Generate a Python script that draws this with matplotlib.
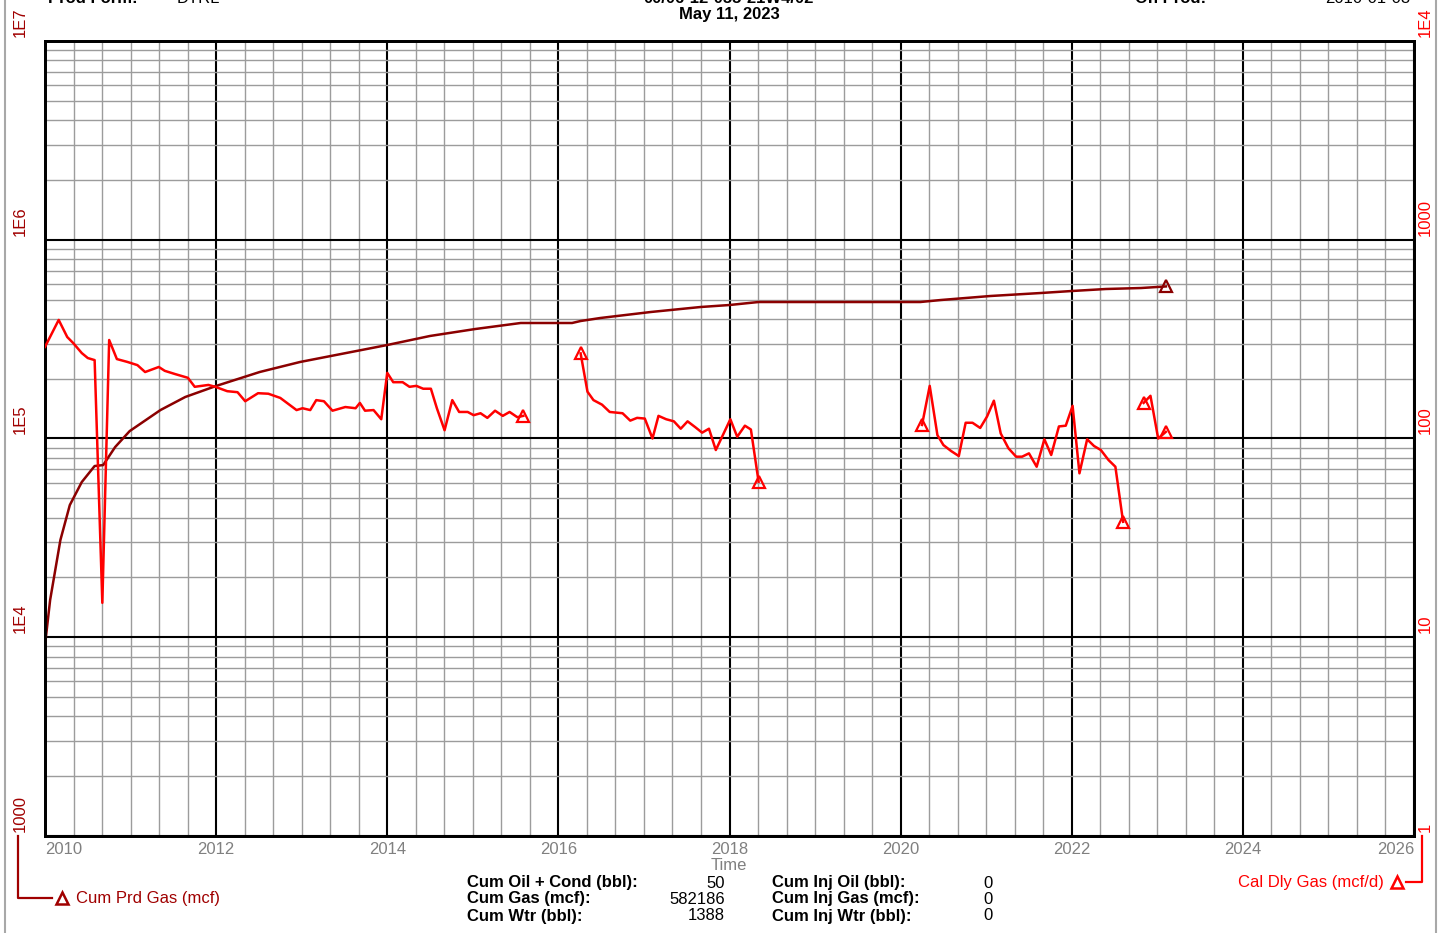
import numpy as np
import matplotlib.pyplot as plt
from matplotlib.ticker import FixedLocator, NullFormatter

plt.rcParams['font.family'] = ['Liberation Sans', 'DejaVu Sans']

W, H = 1445, 933

# Cum Prd Gas (mcf), left axis
cum_year = [2010.00, 2010.06, 2010.18, 2010.29, 2010.43, 2010.58, 2010.68, 2010.82,
            2010.99, 2011.35, 2011.64, 2012.00, 2012.51, 2012.98, 2014.00, 2014.50,
            2015.03, 2015.56, 2016.16, 2016.26, 2016.49, 2017.08, 2017.66, 2018.00,
            2018.34, 2020.23, 2020.47, 2021.05, 2021.64, 2022.00, 2022.40, 2022.81,
            2023.10]
cum_gas = [9140, 15400, 30850, 46250, 60400, 72700, 73500, 90600,
           109000, 139100, 161800, 183800, 216100, 242600, 295400, 328000,
           355600, 381200, 381200, 390100, 403900, 433000, 458700, 469500,
           486100, 486100, 497500, 521200, 539600, 552200, 565200, 571700,
           582186]

# Cal Dly Gas (mcf/d), right axis - one list per producing period
p1_year = [2010.00, 2010.16, 2010.26, 2010.33, 2010.43, 2010.50, 2010.58, 2010.67,
           2010.75, 2010.84, 2010.96, 2011.08, 2011.17, 2011.33, 2011.40, 2011.52,
           2011.67, 2011.75, 2011.91, 2011.99, 2012.13, 2012.25, 2012.34, 2012.49,
           2012.61, 2012.75, 2012.94, 2013.01, 2013.10, 2013.17, 2013.26, 2013.36,
           2013.51, 2013.63, 2013.68, 2013.74, 2013.84, 2013.93, 2014.00, 2014.07,
           2014.18, 2014.26, 2014.34, 2014.42, 2014.51, 2014.58, 2014.67, 2014.76,
           2014.84, 2014.94, 2015.01, 2015.09, 2015.17, 2015.26, 2015.35, 2015.43,
           2015.52, 2015.59]
p1_rate = [289, 395, 324, 302, 269, 254, 248, 14.9,
           313, 251, 243, 234, 216, 229, 219, 211,
           202, 182, 186, 182, 173, 171, 154, 169,
           168, 160, 139, 142, 139, 156, 154, 138,
           144, 142, 151, 138, 139, 125, 214, 192,
           192, 182, 184, 178, 178, 142, 110, 156,
           136, 136, 131, 134, 127, 138, 130, 136,
           128, 130]

p2_year = [2016.26, 2016.34, 2016.41, 2016.51, 2016.60, 2016.75, 2016.84, 2016.92,
           2017.01, 2017.10, 2017.17, 2017.26, 2017.35, 2017.43, 2017.51, 2017.60,
           2017.68, 2017.76, 2017.84, 2018.01, 2018.09, 2018.18, 2018.25, 2018.34]
p2_rate = [268, 172, 156, 148, 136, 134, 123, 127,
           126, 100, 130, 125, 122, 112, 122, 114,
           107, 112, 87.5, 125, 102, 116, 111, 60.6]

p3_year = [2020.25, 2020.34, 2020.43, 2020.50, 2020.59, 2020.68, 2020.76, 2020.84,
           2020.93, 2021.01, 2021.09, 2021.17, 2021.26, 2021.35, 2021.42, 2021.50,
           2021.59, 2021.68, 2021.76, 2021.85, 2021.93, 2022.01, 2022.09, 2022.18,
           2022.26, 2022.34, 2022.43, 2022.51, 2022.60]
p3_rate = [117, 184, 104, 92.7, 86.5, 81.6, 120, 120,
           113, 129, 155, 106, 89.3, 81.0, 81.0, 84.2,
           72.1, 99.1, 82.6, 115, 116, 146, 66.8, 99.1,
           91.7, 87.5, 77.9, 72.1, 38.1]

p4_year = [2022.84, 2022.92, 2023.01, 2023.10]
p4_rate = [151, 164, 100, 108]

year_ticks = list(range(2010, 2027, 2))
left_labels = [(1e3, '1000'), (1e4, '1E4'), (1e5, '1E5'), (1e6, '1E6'), (1e7, '1E7')]
right_labels = [(1, '1'), (10, '10'), (100, '100'), (1000, '1000'), (1e4, '1E4')]

stats_left = [('Cum Oil + Cond (bbl):', '50'), ('Cum Gas (mcf):', '582186'), ('Cum Wtr (bbl):', '1388')]
stats_right = [('Cum Inj Oil (bbl):', '0'), ('Cum Inj Gas (mcf):', '0'), ('Cum Inj Wtr (bbl):', '0')]

cum_color = '#8b0000'
label_dark = '#a00000'
rate_color = '#ff0000'
fs = 12


def fx(x):
    return x / W


def fy(y):
    return 1 - y / H


fig = plt.figure(figsize=(W / 100, H / 100), dpi=100)
ax = fig.add_axes([fx(45), fy(836), (1414 - 45) / W, (836 - 41) / H])
ax.set_xlim(2010, 2026)
ax.set_yscale('log')
ax.set_ylim(1e3, 1e7)

ax.xaxis.set_major_locator(FixedLocator(year_ticks))
ax.xaxis.set_minor_locator(FixedLocator(np.arange(2010, 2026.01, 1 / 3)))
ax.set_xticklabels([str(y) for y in year_ticks], color='#808080', fontsize=fs)
tl = ax.get_xticklabels()
tl[0].set_ha('left')
tl[-1].set_ha('right')
ax.tick_params(which='both', length=0)
ax.tick_params(axis='x', pad=4)
ax.tick_params(axis='y', which='both', labelleft=False)
ax.grid(which='minor', color='#9c9c9c', lw=1.0)
ax.grid(which='major', color='black', lw=1.5)
ax.set_axisbelow(True)
for s in ax.spines.values():
    s.set_linewidth(2)

ax2 = ax.twinx()
ax2.set_yscale('log')
ax2.set_ylim(1, 1e4)
ax2.tick_params(which='both', length=0, labelright=False)
ax2.yaxis.set_minor_formatter(NullFormatter())
for s in ax2.spines.values():
    s.set_linewidth(2)

# cumulative gas
ax.plot(cum_year, cum_gas, color=cum_color, lw=1.8, marker='^', markevery=[len(cum_year) - 1],
        mfc='none', ms=9, mew=1.6, zorder=3)

# daily gas rate
for yrs, rate, first in [(p1_year, p1_rate, False), (p2_year, p2_rate, True),
                         (p3_year, p3_rate, True), (p4_year, p4_rate, True)]:
    marks = [len(yrs) - 1] + ([0] if first else [])
    ax2.plot(yrs, rate, color=rate_color, lw=1.8, marker='^', markevery=marks,
             mfc='none', ms=9, mew=1.6, zorder=3)

# rotated axis labels, reading upward from each decade line
for v, t in left_labels:
    ax.annotate(t, xy=(-0.0183, v), xycoords=('axes fraction', 'data'), xytext=(0, 4),
                textcoords='offset pixels', rotation=90, ha='center', va='bottom',
                color=label_dark, fontsize=fs, annotation_clip=False)
for v, t in right_labels:
    ax2.annotate(t, xy=(1.0083, v), xycoords=('axes fraction', 'data'), xytext=(0, 4),
                 textcoords='offset pixels', rotation=90, ha='center', va='bottom',
                 color=rate_color, fontsize=fs, annotation_clip=False)

fig.text(fx(729), fy(866), 'Time', color='#808080', fontsize=fs, ha='center', va='center')

# header (partly cut off at the top, as in the source page)
fig.text(fx(48), fy(-2), 'Prod Form:', fontsize=fs, fontweight='bold', va='center')
fig.text(fx(177), fy(-2), 'DTRL', fontsize=fs, va='center')
fig.text(fx(729), fy(-2), '00/06-12-055-21W4/02', fontsize=fs, fontweight='bold', ha='center', va='center')
fig.text(fx(729), fy(15), 'May 11, 2023', fontsize=fs, fontweight='bold', ha='center', va='center')
fig.text(fx(1135), fy(-2), 'On Prod:', fontsize=fs, fontweight='bold', va='center')
fig.text(fx(1410), fy(-2), '2010-01-08', fontsize=fs, ha='right', va='center')

# legend brackets
fig.add_artist(plt.Line2D([fx(18), fx(18), fx(52)], [fy(836), fy(898), fy(898)],
                          color=label_dark, lw=1.6))
fig.add_artist(plt.Line2D([fx(62)], [fy(898)], marker='^', ms=8, mfc='none', mew=1.8,
                          color=label_dark))
fig.text(fx(76), fy(898), 'Cum Prd Gas (mcf)', color=label_dark, fontsize=fs, va='center')

fig.add_artist(plt.Line2D([fx(1422), fx(1422), fx(1406)], [fy(836), fy(882), fy(882)],
                          color=rate_color, lw=1.6))
fig.add_artist(plt.Line2D([fx(1397)], [fy(882)], marker='^', ms=8, mfc='none', mew=1.8,
                          color=rate_color))
fig.text(fx(1384), fy(882), 'Cal Dly Gas (mcf/d)', color=rate_color, fontsize=fs, ha='right', va='center')

# summary block
rows_y = [883, 899, 916]
for (lab, val), y in zip(stats_left, rows_y):
    fig.text(fx(467), fy(y), lab, fontsize=fs, fontweight='bold', va='center')
    fig.text(fx(725), fy(y), val, fontsize=fs, ha='right', va='center')
for (lab, val), y in zip(stats_right, rows_y):
    fig.text(fx(772), fy(y), lab, fontsize=fs, fontweight='bold', va='center')
    fig.text(fx(993), fy(y), val, fontsize=fs, ha='right', va='center')

# page frame edges
fig.add_artist(plt.Line2D([fx(5), fx(5)], [0, 1], color='#a8a8a8', lw=1.5))
fig.add_artist(plt.Line2D([fx(1436), fx(1436)], [0, 1], color='#a8a8a8', lw=1.5))

fig.savefig('out.png', dpi=100)
